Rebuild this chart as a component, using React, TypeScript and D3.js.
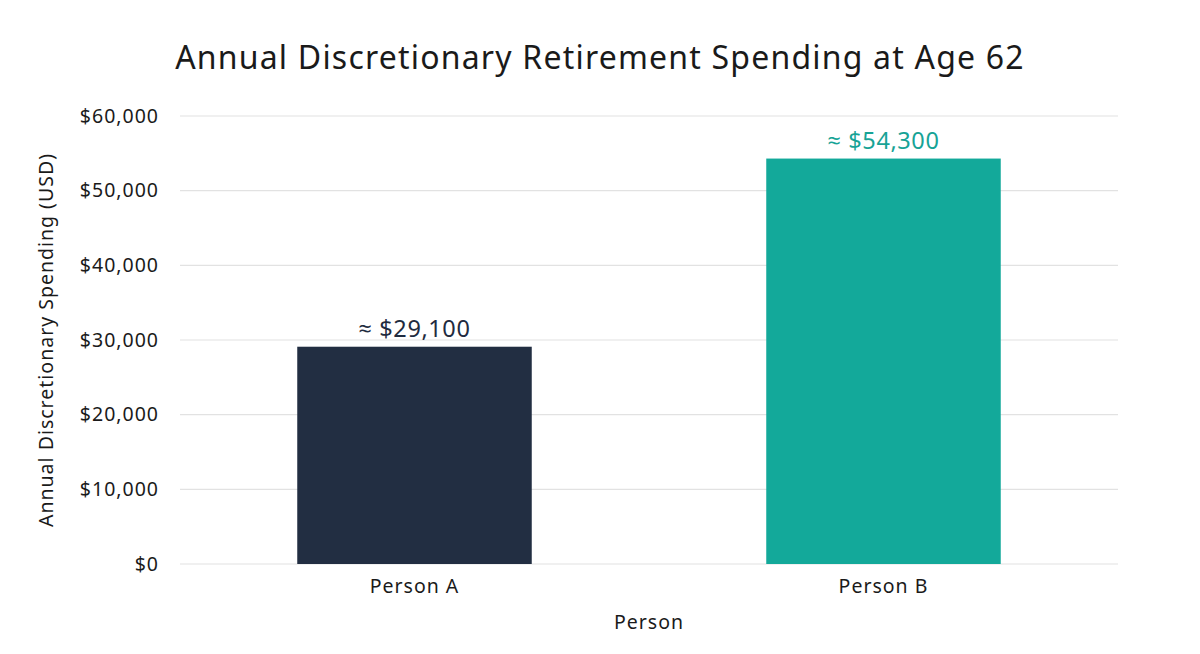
import { useEffect, useRef } from 'react';
import * as d3 from 'd3';

const people = ['Person A', 'Person B'];
const spending = [29100, 54300];
const barColors = ['#222e42', '#13a99a'];
const labelColors = ['#1f2b40', '#17a396'];
const yTicks = [0, 10000, 20000, 30000, 40000, 50000, 60000];

const FONT = '"Noto Sans", "Open Sans", sans-serif';

export default function App() {
  const svgRef = useRef<SVGSVGElement>(null);

  useEffect(() => {
    const svg = d3.select(svgRef.current);
    svg.selectAll('*').remove();

    const W = 1200, H = 654;
    const margin = { top: 116, right: 82, bottom: 90, left: 180 };
    const innerW = W - margin.left - margin.right;
    const innerH = H - margin.top - margin.bottom;

    svg.attr('viewBox', `0 0 ${W} ${H}`);

    svg.append('rect').attr('width', W).attr('height', H).attr('fill', '#ffffff');

    // Title
    svg.append('text')
      .attr('x', 600).attr('y', 69)
      .attr('text-anchor', 'middle')
      .attr('font-family', FONT).attr('font-size', 32).attr('letter-spacing', 1.2).attr('fill', '#1a1a1a')
      .text('Annual Discretionary Retirement Spending at Age 62');

    const g = svg.append('g').attr('transform', `translate(${margin.left},${margin.top})`);

    const x = d3.scaleBand<string>().domain(people).range([0, innerW]).paddingInner(0.5).paddingOuter(0.25);
    const y = d3.scaleLinear().domain([0, 60000]).range([innerH, 0]);

    // Grid lines
    yTicks.forEach(v => {
      g.append('line')
        .attr('x1', 0).attr('x2', innerW)
        .attr('y1', y(v)).attr('y2', y(v))
        .attr('stroke', '#e2e2e2').attr('stroke-width', 1.2);
    });

    // Y axis
    const yAxis = d3.axisLeft(y).tickValues(yTicks).tickSize(0).tickPadding(21)
      .tickFormat(d => `$${d3.format(',')(d as number)}`);
    g.append('g')
      .call(yAxis)
      .call(ax => ax.select('.domain').remove())
      .call(ax => ax.selectAll('text').attr('font-family', FONT).attr('font-size', 19.5)
        .attr('letter-spacing', 1).attr('fill', '#1a1a1a'));

    // X axis
    const xAxis = d3.axisBottom(x).tickSize(0).tickPadding(15);
    g.append('g')
      .attr('transform', `translate(0,${innerH})`)
      .call(xAxis)
      .call(ax => ax.select('.domain').remove())
      .call(ax => ax.selectAll('text').attr('font-family', FONT).attr('font-size', 19.5)
        .attr('letter-spacing', 1).attr('fill', '#1a1a1a'));

    // Bars
    people.forEach((p, i) => {
      g.append('rect')
        .attr('x', x(p)!).attr('y', y(spending[i]))
        .attr('width', x.bandwidth()).attr('height', innerH - y(spending[i]))
        .attr('fill', barColors[i]);
      g.append('text')
        .attr('x', x(p)! + x.bandwidth() / 2).attr('y', y(spending[i]) - 10)
        .attr('text-anchor', 'middle')
        .attr('font-family', FONT).attr('font-size', 23.5).attr('letter-spacing', 0.6).attr('fill', labelColors[i])
        .text(`≈ $${d3.format(',')(spending[i])}`);
    });

    // Axis labels
    g.append('text')
      .attr('x', innerW / 2).attr('y', innerH + 65)
      .attr('text-anchor', 'middle')
      .attr('font-family', FONT).attr('font-size', 19.5).attr('letter-spacing', 1).attr('fill', '#1a1a1a')
      .text('Person');

    g.append('text')
      .attr('transform', 'rotate(-90)')
      .attr('x', -innerH / 2).attr('y', -127)
      .attr('text-anchor', 'middle')
      .attr('font-family', FONT).attr('font-size', 19.5).attr('letter-spacing', 1).attr('fill', '#1a1a1a')
      .text('Annual Discretionary Spending (USD)');
  }, []);

  return (
    <svg
      ref={svgRef}
      width={1200}
      height={654}
      style={{ position: 'absolute', left: 0, top: 0, display: 'block' }}
    />
  );
}
